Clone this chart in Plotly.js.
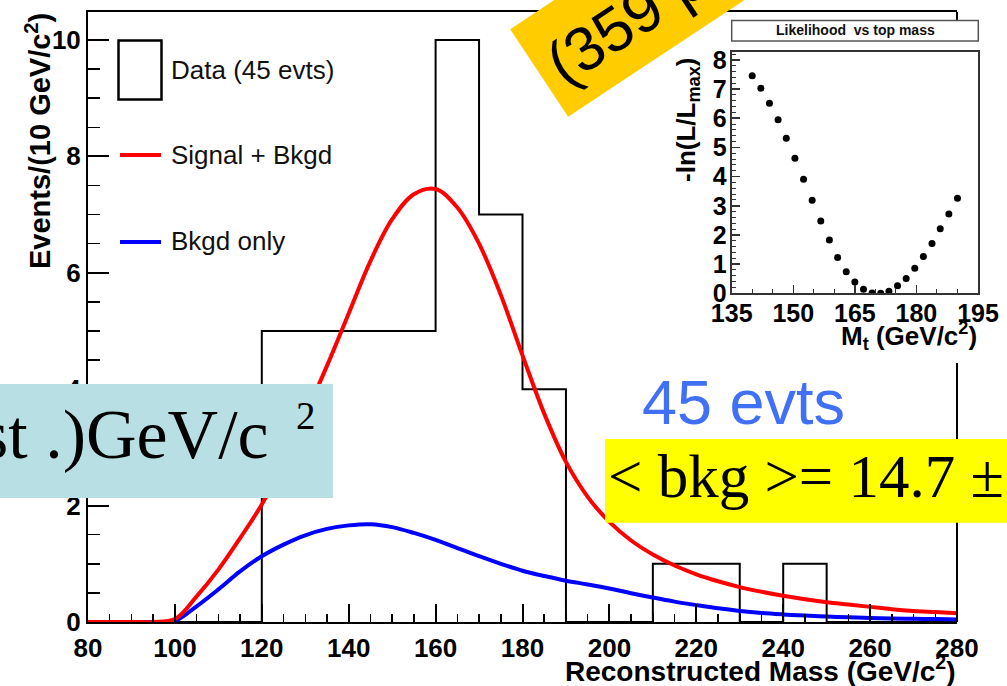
<!DOCTYPE html>
<html><head><meta charset="utf-8">
<script src="https://cdn.plot.ly/plotly-3.0.1.min.js"></script>
<style>html,body{margin:0;padding:0;background:#fff;overflow:hidden}#chart{width:1007px;height:686px}</style>
</head><body><div id="chart"></div>
<script>
// ---- data ----
const binEdges = [80,90,100,110,120,130,140,150,160,170,180,190,200,210,220,230,240,250,260,270,280];
const dataCounts = [0,0,0,0,5,5,5,5,10,7,4,0,0,1,1,0,1,0,0,0];

const massGrid = [80,85,90,95,100,105,110,115,120,125,130,135,140,145,150,155,160,165,170,175,180,185,190,195,200,205,210,215,220,225,230,235,240,245,250,255,260,265,270,275,280];
const signalPlusBkgd = [0,0,0,0,0.05,0.44,0.9,1.44,2.02,2.75,3.55,4.4,5.3,6.2,6.92,7.35,7.44,7.12,6.5,5.62,4.58,3.58,2.75,2.15,1.72,1.4,1.16,0.97,0.82,0.7,0.6,0.52,0.45,0.39,0.34,0.3,0.26,0.22,0.19,0.17,0.15];
const bkgdOnly = [0,0,0,0,0.02,0.27,0.56,0.87,1.13,1.33,1.49,1.6,1.66,1.68,1.63,1.53,1.41,1.27,1.13,1.0,0.88,0.79,0.71,0.645,0.575,0.495,0.42,0.35,0.29,0.235,0.19,0.155,0.13,0.11,0.095,0.08,0.07,0.06,0.055,0.05,0.045];

const topMass = [140.0,142.1,144.2,146.3,148.3,150.4,152.5,154.6,156.7,158.8,160.8,162.9,165.0,167.1,169.2,171.3,173.3,175.4,177.5,179.6,181.7,183.8,185.8,187.9,190.0];
const negLogL = [7.46,7.03,6.51,5.95,5.31,4.63,3.91,3.19,2.48,1.83,1.23,0.74,0.39,0.14,0.01,0.0,0.07,0.26,0.51,0.86,1.26,1.71,2.21,2.72,3.26];

const legendLabels = ['Data (45 evts)', 'Signal + Bkgd', 'Bkgd only'];

// ---- page geometry helpers (pixel -> paper) ----
const W = 1007, H = 686, ML = 88, MR = 20, MT = 12, MB = 64;
const PW = W - ML - MR, PH = H - MT - MB;
const px = v => (v - ML) / PW;
const py = v => (H - MB - v) / PH;

const SANS = 'Liberation Sans, Arial, Helvetica, sans-serif';
const SERIF = 'Liberation Serif, Times New Roman, serif';

const histX = binEdges.slice();
const histY = dataCounts.concat([dataCounts[dataCounts.length - 1]]);

const traces = [
  {x: histX, y: histY, type: 'scatter', mode: 'lines', line: {shape: 'hv', color: '#000', width: 2}, xaxis: 'x', yaxis: 'y', name: legendLabels[0], hoverinfo: 'skip'},
  {x: massGrid, y: bkgdOnly, type: 'scatter', mode: 'lines', line: {shape: 'spline', smoothing: 1, color: '#0000ff', width: 4}, xaxis: 'x', yaxis: 'y', name: legendLabels[2]},
  {x: massGrid, y: signalPlusBkgd, type: 'scatter', mode: 'lines', line: {shape: 'spline', smoothing: 1, color: '#ff0000', width: 4}, xaxis: 'x', yaxis: 'y', name: legendLabels[1]},
  {x: topMass, y: negLogL, type: 'scatter', mode: 'markers', marker: {color: '#000', size: 7}, xaxis: 'x2', yaxis: 'y2', name: 'Likelihood'}
];

const tickFont = {family: SANS, size: 26, weight: 'bold', color: '#000'};
const insetTickFont = {family: SANS, size: 25, weight: 'bold', color: '#000'};

const layout = {
  width: W, height: H,
  margin: {l: ML, r: MR, t: MT, b: MB, pad: 0},
  paper_bgcolor: '#fff', plot_bgcolor: '#fff',
  showlegend: false,
  xaxis: {
    domain: [0, px(957)], range: [80, 280], anchor: 'y',
    showline: true, linewidth: 2, linecolor: '#000', mirror: true,
    ticks: 'inside', tick0: 80, dtick: 20, ticklen: 18, tickwidth: 2, tickcolor: '#000',
    minor: {ticks: 'inside', dtick: 5, ticklen: 8, tickwidth: 1.5, tickcolor: '#000'},
    tickfont: tickFont, ticklabelstandoff: 2,
    showgrid: false, zeroline: false, fixedrange: true
  },
  yaxis: {
    domain: [0, 1], range: [0, 10.48], anchor: 'x',
    showline: true, linewidth: 2, linecolor: '#000', mirror: false,
    ticks: 'inside', tick0: 0, dtick: 2, ticklen: 21, tickwidth: 2, tickcolor: '#000',
    minor: {ticks: 'inside', dtick: 0.5, ticklen: 12, tickwidth: 1.5, tickcolor: '#000'},
    tickfont: tickFont, ticklabelstandoff: 0,
    showgrid: false, zeroline: false, fixedrange: true
  },
  xaxis2: {
    domain: [px(731.7), px(978)], range: [135, 195], anchor: 'y2',
    showline: true, linewidth: 2, linecolor: '#333', mirror: true,
    ticks: 'inside', tick0: 135, dtick: 15, ticklen: 8, tickwidth: 1.5, tickcolor: '#333',
    minor: {ticks: 'inside', dtick: 5, ticklen: 4, tickwidth: 1, tickcolor: '#333'},
    tickfont: insetTickFont, ticklabelstandoff: -3,
    showgrid: false, zeroline: false, fixedrange: true
  },
  yaxis2: {
    domain: [py(293.3), py(52.3)], range: [0, 8.26], anchor: 'x2',
    showline: true, linewidth: 2, linecolor: '#333', mirror: true,
    ticks: 'inside', tick0: 0, dtick: 1, ticklen: 8, tickwidth: 1.5, tickcolor: '#333',
    minor: {ticks: 'inside', dtick: 0.2, ticklen: 4, tickwidth: 1, tickcolor: '#333'},
    tickfont: insetTickFont, ticklabelstandoff: -2,
    showgrid: false, zeroline: false, fixedrange: true
  },
  shapes: [
    // right edge of the main frame (hidden behind the inset pad in the middle)
    {type: 'line', xref: 'paper', yref: 'paper', x0: px(957), x1: px(957), y0: py(622), y1: py(363), line: {color: '#000', width: 2}},
    {type: 'line', xref: 'paper', yref: 'paper', x0: px(957), x1: px(957), y0: py(20), y1: py(12), line: {color: '#000', width: 2}},
    // legend glyphs
    {type: 'rect', xref: 'paper', yref: 'paper', x0: px(118.5), x1: px(161.5), y0: py(99.5), y1: py(40.5), line: {color: '#000', width: 2.5}},
    {type: 'line', xref: 'paper', yref: 'paper', x0: px(120), x1: px(161), y0: py(155), y1: py(155), line: {color: '#ff0000', width: 4}},
    {type: 'line', xref: 'paper', yref: 'paper', x0: px(120), x1: px(161), y0: py(242), y1: py(242), line: {color: '#0000ff', width: 4}},
    // inset title box
    {type: 'rect', xref: 'paper', yref: 'paper', x0: px(731.7), x1: px(978.3), y0: py(41), y1: py(20.5), fillcolor: '#fff', line: {color: '#555', width: 1.5}},
    // pasted overlay boxes
    {type: 'rect', layer: 'above', xref: 'paper', yref: 'paper', x0: px(-5), x1: px(333), y0: py(498), y1: py(384), fillcolor: '#b8e0e4', line: {width: 0}},
    {type: 'rect', layer: 'above', xref: 'paper', yref: 'paper', x0: px(605), x1: px(1012), y0: py(522.7), y1: py(439), fillcolor: '#ffff00', line: {width: 0}}
  ],
  annotations: [
    {text: legendLabels[0], xref: 'paper', yref: 'paper', x: px(169), y: py(70), xanchor: 'left', yanchor: 'middle', showarrow: false, font: {family: SANS, size: 26, color: '#111'}},
    {text: legendLabels[1], xref: 'paper', yref: 'paper', x: px(169), y: py(155), xanchor: 'left', yanchor: 'middle', showarrow: false, font: {family: SANS, size: 26, color: '#111'}},
    {text: legendLabels[2], xref: 'paper', yref: 'paper', x: px(169), y: py(241), xanchor: 'left', yanchor: 'middle', showarrow: false, font: {family: SANS, size: 26, color: '#111'}},
    // axis titles
    {text: 'Events/(10 GeV/c<sup>2</sup>)', xref: 'paper', yref: 'paper', x: px(38), y: py(141), xanchor: 'center', yanchor: 'middle', textangle: -90, showarrow: false, font: {family: SANS, size: 29, weight: 'bold', color: '#000'}},
    {text: 'Reconstructed Mass (GeV/c<sup>2</sup>)', xref: 'paper', yref: 'paper', x: px(958), y: py(669), xanchor: 'right', yanchor: 'middle', showarrow: false, font: {family: SANS, size: 28, weight: 'bold', color: '#000'}},
    {text: '-ln(L/L<sub>max</sub>)', xref: 'paper', yref: 'paper', x: px(687), y: py(120), xanchor: 'center', yanchor: 'middle', textangle: -90, showarrow: false, font: {family: SANS, size: 26, weight: 'bold', color: '#000'}},
    {text: 'M<sub>t</sub> (GeV/c<sup>2</sup>)', xref: 'paper', yref: 'paper', x: px(979), y: py(336), xanchor: 'right', yanchor: 'middle', showarrow: false, font: {family: SANS, size: 26, weight: 'bold', color: '#000'}},
    {text: 'Likelihood  vs top mass', xref: 'paper', yref: 'paper', x: px(855), y: py(30.5), xanchor: 'center', yanchor: 'middle', showarrow: false, font: {family: SANS, size: 14, weight: 'bold', color: '#111'}},
    // overlays
    {text: '45 evts', xref: 'paper', yref: 'paper', x: px(640), y: py(402), xanchor: 'left', yanchor: 'middle', showarrow: false, font: {family: SANS, size: 63, color: '#4070f5'}},
    {text: 'st .)GeV/c', xref: 'paper', yref: 'paper', x: px(271), y: py(434), xanchor: 'right', yanchor: 'middle', showarrow: false, font: {family: SERIF, size: 70, color: '#000'}},
    {text: '2', xref: 'paper', yref: 'paper', x: px(305.5), y: py(415), xanchor: 'center', yanchor: 'middle', showarrow: false, font: {family: SERIF, size: 39, color: '#000'}},
    {text: '< bkg >= 14.7 ±', xref: 'paper', yref: 'paper', x: px(606), y: py(476), xanchor: 'left', yanchor: 'middle', showarrow: false, font: {family: SERIF, size: 61, color: '#000'}},
    {text: '(359 pb<sup>-1</sup>)', xref: 'paper', yref: 'paper', x: px(663), y: py(-9), xanchor: 'center', yanchor: 'middle', textangle: -33.5, showarrow: false, bgcolor: '#ffcc00', borderpad: 13, font: {family: SANS, size: 62, color: '#000'}}
  ]
};

Plotly.newPlot('chart', traces, layout, {displayModeBar: false, staticPlot: true});
</script>
</body></html>
